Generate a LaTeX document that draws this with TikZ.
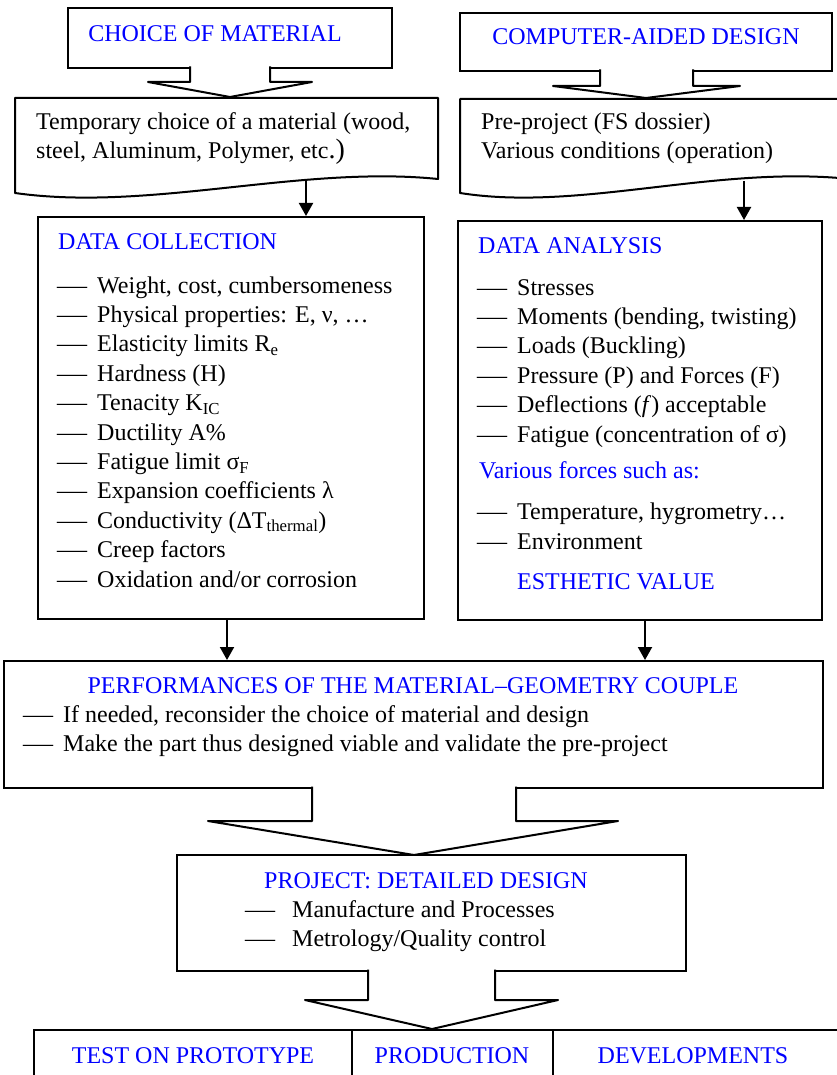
\documentclass[tikz,border=0pt]{standalone}
\usepackage{fontspec}
\setmainfont{Liberation Serif}
\usetikzlibrary{arrows.meta}

% dash in front of a list entry, text starts #1 after the dash
\newcommand{\dashitem}[2][40pt]{\makebox[#1][l]{\scalebox{1.25}[1]{—}}#2}

\tikzset{
  box/.style={draw=black, line width=2pt, inner sep=0pt},
  docbox/.style={draw=black, line width=2pt, line join=round},
  blk/.style={draw=black, fill=white, line width=2pt, line join=round},
  ttl/.style={text=blue, inner sep=0pt},
  itm/.style={anchor=base west, inner sep=0pt},
  flow/.style={draw=black, line width=2pt, -{Triangle[width=14pt,length=13pt]}}
}

\begin{document}
\begin{tikzpicture}[x=1pt, y=-1pt, font=\fontsize{24}{29.4}\selectfont]
  \useasboundingbox (0,0) rectangle (836,1075);

  % starting blocks
  \node[box, minimum width=324pt, minimum height=60pt] (mat) at (230,38) {};
  \node[ttl, anchor=base] (matT) at (215,42) {CHOICE OF MATERIAL};
  \node[box, minimum width=372pt, minimum height=58pt] (cad) at (646,42) {};
  \node[ttl, anchor=base] (cadT) at (646,45) {COMPUTER-AIDED DESIGN};

  % document shapes with a wavy lower edge
  \draw[docbox] (15,98) -- (438,98) -- (438,179)
    .. controls (300,165) and (150,212) .. (15,193) -- cycle;
  \draw[docbox] (460,99) -- (850,99) -- (850,179)
    .. controls (715,165) and (580,212) .. (460,193) -- cycle;
  \node[itm] (tmp1) at (36,130) {Temporary choice of a material (wood,};
  \node[itm] (tmp2) at (36,159) {steel, Aluminum, Polymer, etc{\fontsize{28}{28}\selectfont .)}};
  \node[itm] (pre1) at (481,130) {Pre-project (FS dossier)};
  \node[itm] (pre2) at (481,159) {Various conditions (operation)};

  % collection / analysis
  \node[box, minimum width=386pt, minimum height=402pt] (dc) at (231,418) {};
  \node[ttl, anchor=base west] (dcT) at (58,250) {DATA COLLECTION};
  \foreach \t [count=\i from 0] in {{Weight, cost, cumbersomeness},
      {Physical properties: E, ν, …}, {Elasticity limits R\textsubscript{e}},
      {Hardness (H)}, {Tenacity K\textsubscript{IC}}, {Ductility A\%},
      {Fatigue limit σ\textsubscript{F}}, {Expansion coefficients λ},
      {Conductivity (ΔT\textsubscript{thermal})}, {Creep factors},
      {Oxidation and/or corrosion}}
    \node[itm] (dc\i) at (57,{293+29.4*\i}) {\dashitem{\t}};

  \node[box, minimum width=364pt, minimum height=399pt] (da) at (640,420.5) {};
  \node[ttl, anchor=base west] (daT) at (478,253) {DATA ANALYSIS};
  \foreach \t [count=\i from 0] in {{Stresses}, {Moments (bending, twisting)},
      {Loads (Buckling)}, {Pressure (P) and Forces (F)},
      {Deflections (\textit{f}) acceptable}, {Fatigue (concentration of σ)}}
    \node[itm] (da\i) at (477,{295+29.4*\i}) {\dashitem{\t}};
  \node[ttl, anchor=base west] (force) at (479,478) {Various forces such as:};
  \node[itm] (env1) at (477,519) {\dashitem{Temperature, hygrometry…}};
  \node[itm] (env2) at (477,549) {\dashitem{Environment}};
  \node[ttl, anchor=base west] (esth) at (517,589) {ESTHETIC VALUE};

  % couple material-geometry
  \node[box, minimum width=819pt, minimum height=127pt] (perf) at (413.5,724.5) {};
  \node[ttl, anchor=base] (perfT) at (413,693) {PERFORMANCES OF THE MATERIAL–GEOMETRY COUPLE};
  \node[itm] (perf1) at (23,722) {\dashitem{If needed, reconsider the choice of material and design}};
  \node[itm] (perf2) at (23,751) {\dashitem{Make the part thus designed viable and validate the pre-project}};

  % project
  \node[box, minimum width=509pt, minimum height=116pt] (proj) at (431.5,913) {};
  \node[ttl, anchor=base] (projT) at (426,888) {PROJECT: DETAILED DESIGN};
  \node[itm] (proj1) at (245,917) {\dashitem[47pt]{Manufacture and Processes}};
  \node[itm] (proj2) at (245,946) {\dashitem[47pt]{Metrology/Quality control}};

  % last row
  \node[box, minimum width=318pt, minimum height=60pt] (test) at (193,1060) {};
  \node[box, minimum width=201pt, minimum height=60pt] (prod) at (452.5,1060) {};
  \node[box, minimum width=292pt, minimum height=60pt] (dev) at (699,1060) {};
  \node[ttl, anchor=base] (testT) at (193,1063) {TEST ON PROTOTYPE};
  \node[ttl, anchor=base] (prodT) at (452,1063) {PRODUCTION};
  \node[ttl, anchor=base] (devT) at (693,1063) {DEVELOPMENTS};

  % plain arrows
  \coordinate (tmpout) at (306,179);
  \coordinate (preout) at (744,181);
  \draw[flow] (tmpout) -- (tmpout |- dc.north);
  \draw[flow] (preout) -- (preout |- da.north);
  \draw[flow] ([xshift=-4pt]dc.south) -- ([xshift=-4pt]dc.south |- perf.north);
  \draw[flow] ([xshift=5pt]da.south) -- ([xshift=5pt]da.south |- perf.north);

  % block arrows
  \draw[blk] (190,66.5) -- (190,82) -- (148,82) -- (230,97) -- (312,82) -- (270,82) -- (270,66.5);
  \draw[blk] (600,69.5) -- (600,86) -- (553,86) -- (646,98) -- (740,86) -- (693,86) -- (693,69.5);
  \draw[blk] (312,786.5) -- (312,821) -- (208,821) -- (414,855) -- (618,821) -- (516,821) -- (516,786.5);
  \draw[blk] (368,969.5) -- (368,1000) -- (305,1000) -- (432,1029) -- (558,1000) -- (495,1000) -- (495,969.5);
\end{tikzpicture}
\end{document}
